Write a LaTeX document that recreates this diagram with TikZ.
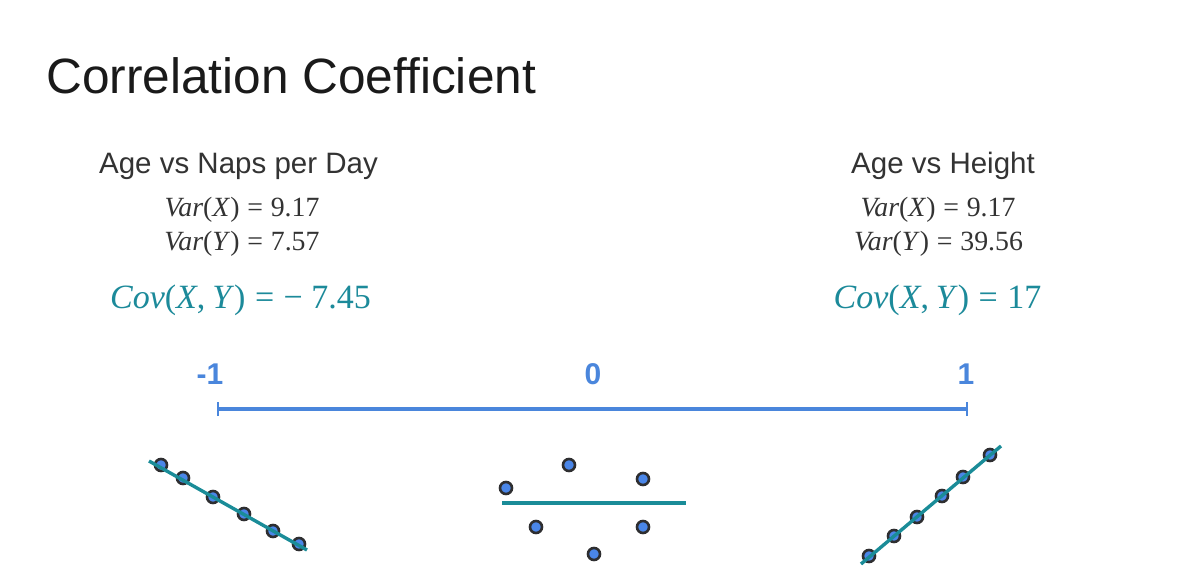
\documentclass[tikz,border=0pt]{standalone}
\usepackage{fontspec}
\setmainfont{Liberation Serif}
\setsansfont{Liberation Sans}
\definecolor{tealline}{HTML}{1A8C98}
\definecolor{covteal}{HTML}{1C8A9A}
\definecolor{axisblue}{HTML}{4A86DC}
\definecolor{dotblue}{HTML}{4A86E8}
\definecolor{dotring}{HTML}{2E2E30}
\definecolor{txtgray}{HTML}{333333}
\definecolor{titleblack}{HTML}{1A1A1A}
\newcommand\eqs{\hspace{0.28em}=\hspace{0.28em}}
\begin{document}
\begin{tikzpicture}[x=1pt,y=-1pt,
  title/.style={font=\sffamily\fontsize{49.6}{55}\selectfont, text=titleblack, inner sep=0pt, anchor=base west},
  heading/.style={font=\sffamily\fontsize{29.5}{33}\selectfont, text=txtgray, inner sep=0pt, anchor=base},
  vartext/.style={font=\fontsize{27.8}{32}\selectfont, text=txtgray, inner sep=0pt, anchor=base},
  covtext/.style={font=\fontsize{34}{38}\selectfont, text=covteal, inner sep=0pt, anchor=base},
  axlabel/.style={font=\sffamily\bfseries\fontsize{30}{34}\selectfont, text=axisblue, inner sep=0pt, anchor=base},
  dot/.style={circle, fill=dotblue, draw=dotring, line width=2.6pt, minimum size=12pt, inner sep=0pt},
  fitline/.style={draw=tealline, line width=3.4pt},
  axisline/.style={draw=axisblue, line width=3.2pt}
]
\useasboundingbox[fill=white] (0,0) rectangle (1187,587);

\node[title] (title) at (46,93) {Correlation Coefficient};

% left block
\node[heading] (hl) at (238.5,173) {Age vs Naps per Day};
\node[vartext] (vxl) at (242,216) {\textit{Var}(\textit{X})\eqs 9.17};
\node[vartext] (vyl) at (242,250) {\textit{Var}(\textit{Y})\eqs 7.57};
\node[covtext] (cl) at (240.5,308) {\textit{Cov}(\textit{X},\hspace{0.2em}\textit{Y})\eqs −\hspace{0.25em}7.45};

% right block
\node[heading] (hr) at (943,173) {Age vs Height};
\node[vartext] (vxr) at (938,216) {\textit{Var}(\textit{X})\eqs 9.17};
\node[vartext] (vyr) at (938.5,250) {\textit{Var}(\textit{Y})\eqs 39.56};
\node[covtext] (cr) at (937.5,308) {\textit{Cov}(\textit{X},\hspace{0.2em}\textit{Y})\eqs 17};

% axis
\node[axlabel] (lm1) at (210,384) {-1};
\node[axlabel] (l0) at (593,384) {0};
\node[axlabel] (l1) at (966,384) {1};
\coordinate (axa) at (218,409);
\coordinate (axb) at (967,409);
\draw[axisline] (axa) -- (axb);
\draw[axisline, line width=2.2pt] ([yshift=-7pt]axa) -- ([yshift=7pt]axa);
\draw[axisline, line width=2.2pt] ([yshift=-7pt]axb) -- ([yshift=7pt]axb);

% left scatter (negative)
\foreach \n/\x/\y in {1/161/465, 2/183/478, 3/213/497, 4/244/514, 5/273/531, 6/299/544}
  \node[dot] (ln\n) at (\x,\y) {};
\coordinate (lsa) at (149,461);
\coordinate (lsb) at (307,550);
\draw[fitline] (lsa) -- (lsb);

% middle scatter (zero)
\foreach \n/\x/\y in {1/506/488, 2/569/465, 3/643/479, 4/536/527, 5/643/527, 6/594/554}
  \node[dot] (mn\n) at (\x,\y) {};
\coordinate (msa) at (502,503);
\coordinate (msb) at (686,503);
\draw[fitline] (msa) -- (msb);

% right scatter (positive)
\foreach \n/\x/\y in {1/869/556, 2/894/536, 3/917/517, 4/942/496, 5/963/477, 6/990/455}
  \node[dot] (rn\n) at (\x,\y) {};
\coordinate (rsa) at (861,564);
\coordinate (rsb) at (1001,446);
\draw[fitline] (rsa) -- (rsb);
\end{tikzpicture}
\end{document}
